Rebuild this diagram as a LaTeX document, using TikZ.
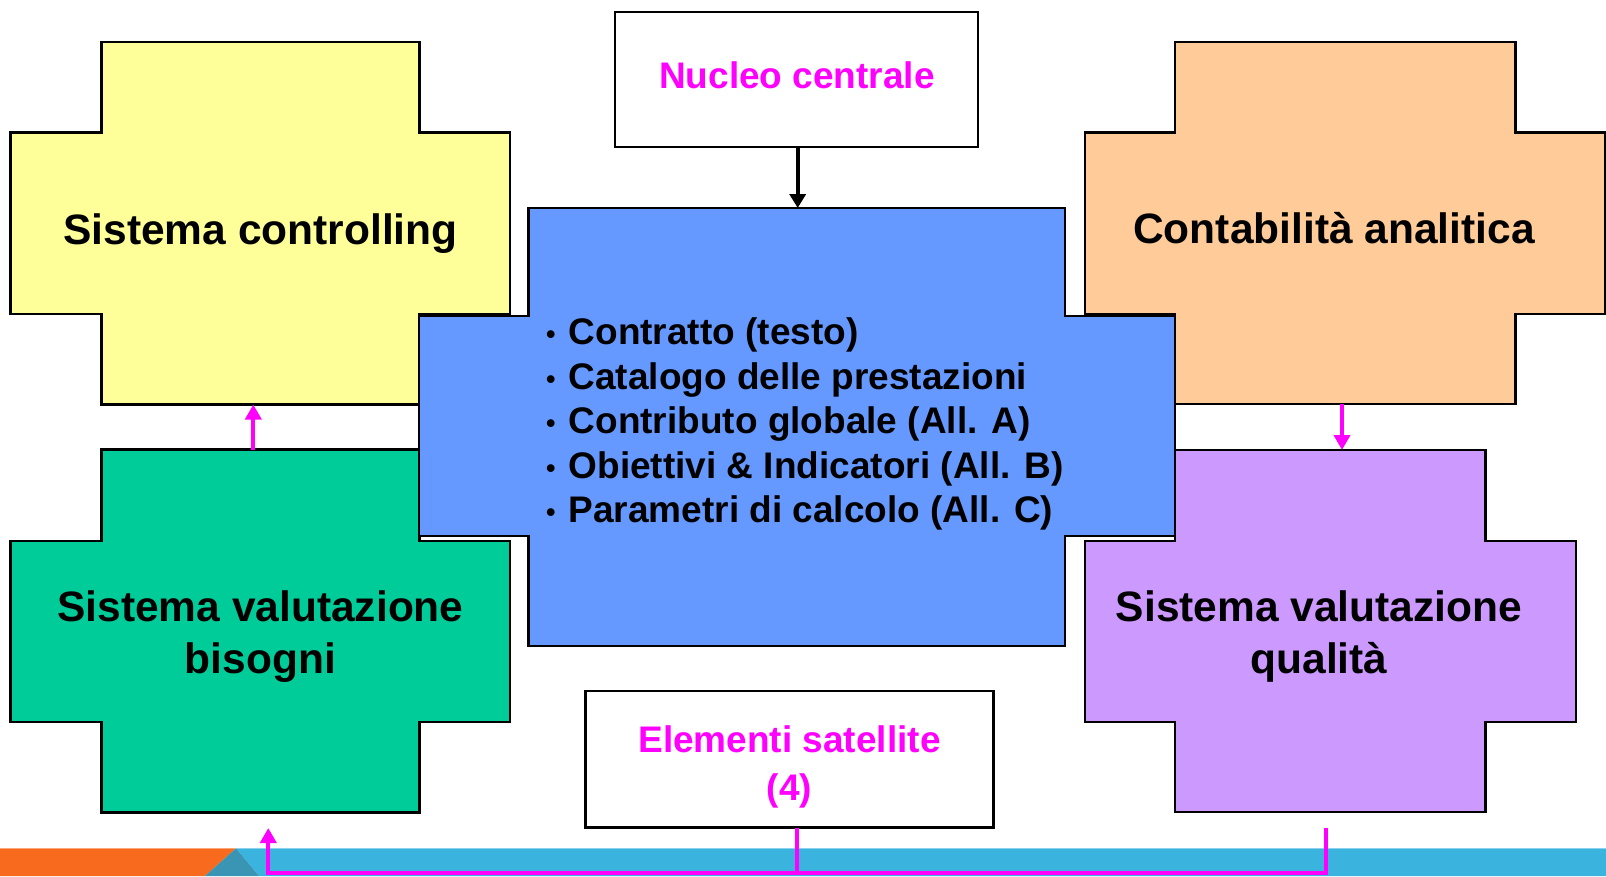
\documentclass[tikz,border=0pt]{standalone}
\usepackage{fontspec}
\setmainfont{Liberation Sans}
\usetikzlibrary{arrows.meta}
\definecolor{cyellow}{HTML}{FFFF99}
\definecolor{cgreen}{HTML}{00CC99}
\definecolor{cblue}{HTML}{6699FF}
\definecolor{corange}{HTML}{FFCC99}
\definecolor{cpurple}{HTML}{CC99FF}
\definecolor{cmag}{HTML}{FF00FF}
\definecolor{barorange}{HTML}{F86B1E}
\definecolor{barblue}{HTML}{3AB3DF}
\definecolor{bardark}{HTML}{3A95B4}
\newcommand\mycross[9]{\draw[#1] (#3,#6) -- (#4,#6) -- (#4,#7) -- (#5,#7) -- (#5,#8) -- (#4,#8) -- (#4,#9) -- (#3,#9) -- (#3,#8) -- (#2,#8) -- (#2,#7) -- (#3,#7) -- cycle;}
\newcommand\mybul{\makebox[22.5pt][l]{\raisebox{1pt}{\fontsize{27}{27}\selectfont •}}}
\tikzset{
  crossbox/.style={draw=black, line width=2.4pt, line join=miter},
  bigtxt/.style={font=\bfseries\fontsize{42.5}{52}\selectfont, align=center, inner sep=0pt},
  magtxt/.style={font=\bfseries\fontsize{37}{48}\selectfont, text=cmag, align=center, inner sep=0pt},
  listtxt/.style={font=\bfseries\fontsize{37}{44.5}\selectfont, align=left, inner sep=0pt},
  whitebox/.style={draw=black, line width=2.2pt, fill=white, inner sep=0pt},
  magline/.style={draw=cmag, line width=4pt},
  magarrow/.style={draw=cmag, line width=4pt, -{Triangle[width=16pt,length=15pt]}},
  blkarrow/.style={draw=black, line width=3.6pt, -{Triangle[width=16pt,length=14pt]}}
}
\begin{document}
\begin{tikzpicture}[x=1pt,y=-1pt]
\useasboundingbox (0,0) rectangle (1606,876);
% bottom bar
\fill[barorange] (0,848.3) -- (236,848.3) -- (205,876) -- (0,876) -- cycle;
\fill[barblue] (236,848.3) -- (1606,848.3) -- (1606,876) -- (259,876) -- cycle;
\fill[bardark] (236,848.3) -- (259,876) -- (205,876) -- cycle;
\draw[line width=1pt, color=barorange!60!white] (0,848.8) -- (236,848.8);
\draw[line width=1pt, color=barblue!60!white] (236,848.8) -- (1606,848.8);
% crosses
\mycross{crossbox, fill=cyellow}{10.5}{101.5}{419.5}{510}{42}{132.5}{314}{404.5}
\mycross{crossbox, fill=cgreen}{10.5}{101.5}{419.5}{510}{449.5}{541}{722}{812.5}
\mycross{crossbox, fill=corange}{1085}{1175}{1515.5}{1605}{42}{132.5}{314}{404}
\mycross{crossbox, fill=cpurple}{1085}{1175}{1485.5}{1576}{450}{541}{722}{812}
\mycross{crossbox, fill=cblue}{419}{528.5}{1065}{1175}{208}{316}{536}{646}
% labels
\node[bigtxt] (ctl) at (260.5,234) {Sistema controlling};
\node[bigtxt] (cont) at (1334,228.5) {Contabilità analitica};
\node[bigtxt] (bis) at (260.5,636.5) {Sistema valutazione\\bisogni};
\node[bigtxt] (qual) at (1319,636.5) {Sistema valutazione\\qualità};
\node[listtxt, anchor=west] (list) at (546,424) {\mybul Contratto (testo)\\\mybul Catalogo delle prestazioni\\\mybul Contributo globale (All. A)\\\mybul Obiettivi \& Indicatori (All. B)\\\mybul Parametri di calcolo (All. C)};
% white boxes
\node[whitebox, minimum width=363pt, minimum height=135.5pt] (nuc) at (796.5,79.4) {};
\node[magtxt] (nuctxt) at (797,75) {Nucleo centrale};
\node[whitebox, minimum width=408pt, minimum height=136.5pt] (el) at (789.5,759.3) {};
\node[magtxt] (eltxt) at (789.5,767) {Elementi satellite\\(4)};
% connector endpoints
\coordinate (nucS) at (797.7,147.5);
\coordinate (blueN) at (797.7,208);
\coordinate (ctlS) at (253.3,404.5);
\coordinate (bisN) at (253.3,449.5);
\coordinate (contS) at (1342,404);
\coordinate (qualN) at (1342,450);
\coordinate (elS) at (797,827.5);
\coordinate (qualS) at (1326,828);
\coordinate (bisS) at (268.3,828);
\coordinate (bus) at (800,872.5);
% connectors
\draw[blkarrow] (nucS) -- (blueN);
\draw[magarrow] (bisN) -- (ctlS);
\draw[magarrow] (contS) -- (qualN);
\draw[magarrow] (qualS) -- (qualS |- bus) -| (bisS);
\draw[magline] (elS) -- (elS |- bus);
\end{tikzpicture}
\end{document}
